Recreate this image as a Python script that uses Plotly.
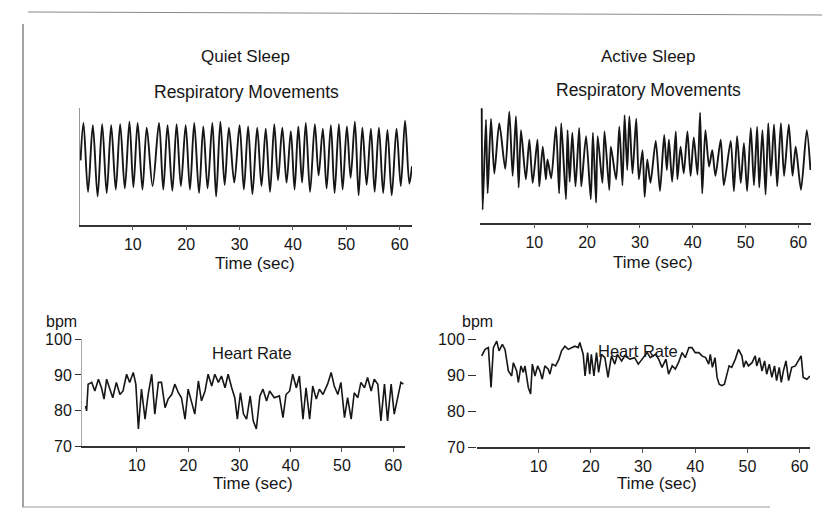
import plotly.graph_objects as go

# ---------------- data ----------------
# Quiet sleep – respiratory movements (arbitrary units, 0-100)
QS_resp_t = [0.2, 0.75, 1.6, 2.5, 3.4, 4.25, 5.1, 5.94, 6.8, 7.62, 8.5, 9.36, 10.1, 10.9, 11.8, 12.6,
             13.7, 14.9, 15.7, 16.5, 17.4, 18.2, 19.0, 19.9, 20.7, 21.5, 22.4, 23.2, 24.0, 24.9, 25.6,
             26.4, 27.2, 28.0, 29.0, 30.0, 30.8, 31.6, 32.4, 33.3, 34.1, 34.9, 35.7, 36.5, 37.2, 38.0,
             38.8, 39.6, 40.3, 41.0, 41.7, 42.4, 43.2, 44.1, 44.8, 45.6, 46.3, 47.1, 47.8, 48.6, 49.3,
             50.1, 50.8, 51.6, 52.3, 53.0, 53.8, 54.6, 55.3, 56.1, 56.9, 57.7, 58.5, 59.4, 60.2, 61.0,
             61.8, 62.3]
QS_resp_v = [55, 87, 28, 85, 24, 86, 27, 85, 30, 86, 31, 88, 32, 87, 30, 83,
             33, 87, 30, 85, 29, 86, 33, 85, 30, 87, 27, 84, 31, 87, 24,
             88, 34, 83, 36, 85, 30, 84, 26, 83, 33, 82, 28, 86, 38, 83,
             36, 80, 30, 84, 36, 87, 28, 86, 42, 82, 31, 85, 27, 86, 30,
             84, 40, 88, 25, 83, 34, 82, 28, 83, 27, 81, 25, 82, 33, 89,
             35, 50]

# Active sleep – respiratory movements
AS_resp_t = [0.05, 0.22, 0.85, 1.17, 1.8, 2.43, 3.37, 4.5, 5.27, 5.9,
             6.53, 7.04, 7.48, 8.4, 9.06, 9.7, 10.6, 10.95, 11.6, 12.2,
             12.5, 13.2, 14.1, 14.7, 15.1, 16.0, 16.3, 16.7, 17.2, 17.8,
             18.5, 18.9, 19.8, 20.7, 21.1, 21.7, 22.0, 22.9, 23.3, 24.2,
             24.5, 25.5, 26.1, 26.7, 27.1, 27.6, 28.0, 28.6, 29.3, 29.8,
             30.5, 30.9, 31.4, 32.0, 33.0, 33.8, 34.6, 35.1, 35.5, 36.1,
             36.8, 37.1, 37.7, 38.3, 39.0, 39.6, 40.2, 40.9, 41.4, 41.8,
             42.4, 43.1, 43.7, 44.3, 45.3, 45.9, 47.2, 47.8, 48.4, 49.1,
             49.7, 50.3, 51.0, 51.6, 52.2, 52.6, 53.2, 53.8, 54.3, 54.8,
             55.4, 56.0, 56.7, 57.3, 58.2, 58.9, 59.5, 60.5, 61.6, 62.3]
AS_resp_v = [98, 11, 88, 25, 89, 42, 85, 46, 95, 40,
             91, 30, 79, 37, 71, 34, 71, 31, 65, 37,
             54, 38, 82, 25, 85, 20, 79, 35, 77, 31,
             81, 31, 74, 20, 77, 17, 74, 34, 78, 28,
             65, 37, 82, 32, 92, 45, 91, 42, 89, 37,
             62, 22, 54, 34, 70, 27, 75, 45, 71, 35,
             78, 37, 65, 42, 78, 40, 73, 41, 94, 25,
             79, 48, 62, 40, 71, 32, 70, 27, 74, 34,
             68, 27, 81, 32, 82, 30, 79, 24, 85, 40,
             84, 31, 85, 40, 84, 40, 65, 28, 79, 45]

# Quiet sleep – heart rate (bpm)
QS_hr_t = [0.0, 0.2, 0.5, 1.2, 1.8, 2.5, 3.1, 3.6, 4.1, 4.8,
           5.3, 6.0, 6.7, 7.3, 8.0, 8.6, 9.3, 9.8, 10.3, 10.9,
           11.6, 12.2, 12.9, 13.5, 14.2, 14.8, 15.5, 16.1, 16.8, 17.4,
           18.1, 18.7, 19.4, 20.0, 20.7, 21.3, 22.0, 22.6, 23.3, 23.9,
           24.6, 25.2, 25.9, 26.5, 27.2, 27.8, 28.5, 29.1, 29.6, 30.2,
           30.8, 31.4, 32.1, 32.7, 33.3, 34.0, 34.6, 35.3, 35.9, 36.8,
           37.8, 38.5, 39.1, 39.8, 40.4, 41.1, 41.7, 42.4, 43.0, 43.7,
           44.3, 45.0, 45.6, 46.3, 47.2, 47.9, 48.5, 49.2, 49.8, 50.5,
           51.1, 51.8, 52.4, 53.1, 53.7, 54.4, 55.0, 55.7, 56.3, 57.0,
           57.6, 58.3, 58.9, 59.6, 60.2, 60.9, 61.5, 62.0]
QS_hr_v = [81.3, 79.9, 87.4, 87.9, 85.5, 88.8, 86.4, 83.2, 88.8, 85.5,
           83.6, 87.9, 84.5, 85.5, 90.2, 87.9, 90.7, 87.4, 74.8, 86.0,
           77.6, 84.5, 90.2, 79.0, 87.9, 87.9, 80.8, 83.2, 84.5, 87.4,
           85.0, 83.6, 77.6, 86.0, 81.8, 79.0, 88.3, 82.7, 85.5, 90.2,
           86.9, 90.2, 87.9, 89.7, 86.4, 90.2, 86.4, 83.6, 77.6, 85.0,
           79.0, 77.6, 84.1, 77.1, 74.8, 84.1, 86.0, 82.7, 85.5, 83.6,
           84.1, 78.0, 84.5, 85.5, 90.2, 86.4, 89.7, 77.6, 86.4, 77.6,
           86.9, 83.2, 86.0, 84.5, 87.4, 90.7, 86.9, 84.5, 87.9, 78.0,
           83.6, 77.6, 85.0, 83.6, 87.9, 86.4, 89.3, 85.5, 88.8, 87.4,
           77.1, 87.4, 77.1, 87.4, 79.0, 84.1, 87.9, 87.4]

# Active sleep – heart rate (bpm)
AS_hr_t = [-0.9, -0.25, 0.38, 0.89, 1.34, 1.98, 2.42, 3.06, 3.57, 4.21,
           4.84, 5.16, 5.8, 6.12, 6.63, 7.07, 7.39, 8.03, 8.47, 8.8,
           9.3, 9.82, 10.26, 10.7, 11.2, 11.85, 12.17, 12.62, 13.26, 13.9,
           14.4, 15.04, 15.68, 16.3, 16.95, 17.6, 17.9, 18.55, 18.9, 19.4,
           19.8, 20.1, 20.6, 21.1, 21.5, 22.05, 22.7, 23.3, 23.96, 24.6,
           25.1, 25.9, 26.5, 27.5, 28.4, 29.1,
           29.83, 30.8, 31.4, 32.4, 33.0, 33.65, 34.4, 34.9, 35.6, 36.2,
           36.8, 37.5, 38.1, 38.8, 39.4, 40.0, 40.7, 41.3, 42.0, 42.6,
           42.9, 43.3, 43.8, 44.2, 44.6, 45.1, 45.6, 46.1, 46.5, 47.0,
           47.7, 48.3, 48.95, 49.3, 49.7, 50.2, 50.9, 51.5, 51.8, 52.3,
           52.8, 53.3, 53.7, 54.2, 54.7, 55.2, 55.6, 56.1, 56.5, 56.9,
           57.4, 57.9, 58.5, 59.2, 59.8, 60.3, 60.7, 61.4, 62.0]
AS_hr_v = [95.4, 97.2, 97.7, 86.6, 97.7, 99.5, 96.8, 98.6, 97.2, 91.2,
           89.8, 93.5, 91.2, 88.0, 92.6, 90.8, 92.6, 86.6, 84.8, 93.1,
           89.8, 92.6, 91.2, 88.9, 92.6, 91.7, 90.3, 93.1, 92.6, 94.5,
           96.8, 98.1, 97.2, 97.7, 98.1, 97.7, 99.1, 95.8, 89.8, 96.3,
           90.3, 95.8, 89.8, 96.3, 90.8, 95.8, 94.9, 89.4, 95.4, 93.1,
           95.8, 94.0, 95.4, 94.5, 94.9, 93.1,
           94.5, 96.3, 94.9, 95.8, 94.5, 92.2, 94.5, 90.3, 92.6, 91.7,
           93.5, 96.3, 94.9, 97.7, 97.7, 96.3, 96.3, 95.4, 94.9, 93.1,
           95.8, 92.2, 94.9, 89.4, 87.5, 87.1, 87.5, 90.3, 92.6, 92.2,
           94.5, 97.2, 95.4, 92.2, 94.0, 92.6, 93.5, 95.4, 92.6, 94.9,
           91.2, 94.0, 90.3, 93.1, 89.4, 92.6, 88.5, 92.2, 88.0, 91.2,
           94.0, 88.5, 92.2, 92.6, 94.0, 95.4, 89.4, 88.9, 89.8]

time_ticks = [10, 20, 30, 40, 50, 60]
bpm_ticks = [70, 80, 90, 100]

# ---------------- layout helpers ----------------
W, H = 822, 516
FONT = "Liberation Sans, Arial, Helvetica, sans-serif"
INK = "#161616"

# the photographed page shows the figure slightly shifted/compressed vertically;
# targets below are in reference-picture pixels and are mapped back here
V_OFF, V_SCALE = 8.0, 0.969


def ypix(t):
    return min(max((t - V_OFF) / V_SCALE, 0), H)


def dx(l, r):
    return [l / W, r / W]


def dy(t, b):
    return [1 - ypix(b) / H, 1 - ypix(t) / H]


def px(x):
    return x / W


def py(y):
    return 1 - ypix(y) / H


fig = go.Figure()
fig.add_trace(go.Scatter(x=QS_resp_t, y=QS_resp_v, mode="lines",
                         line=dict(color=INK, width=1.9, shape="spline", smoothing=0.9),
                         xaxis="x", yaxis="y", hoverinfo="skip"))
fig.add_trace(go.Scatter(x=AS_resp_t, y=AS_resp_v, mode="lines",
                         line=dict(color=INK, width=1.9, shape="spline", smoothing=0.7),
                         xaxis="x2", yaxis="y2", hoverinfo="skip"))
fig.add_trace(go.Scatter(x=QS_hr_t, y=QS_hr_v, mode="lines", line=dict(color=INK, width=1.6),
                         xaxis="x3", yaxis="y3", hoverinfo="skip"))
fig.add_trace(go.Scatter(x=AS_hr_t, y=AS_hr_v, mode="lines", line=dict(color=INK, width=1.6),
                         xaxis="x4", yaxis="y4", hoverinfo="skip"))

tickfont = dict(family=FONT, size=16, color=INK)
xcommon = dict(showgrid=False, zeroline=False, showline=True, linecolor="#333", linewidth=1.8,
               ticks="outside", ticklen=4, tickcolor="#555", tickvals=time_ticks,
               tickfont=tickfont, fixedrange=True)

layout = dict(
    width=W, height=H, autosize=False,
    margin=dict(l=0, r=0, t=0, b=0),
    paper_bgcolor="white", plot_bgcolor="rgba(0,0,0,0)",
    showlegend=False,
    xaxis=dict(xcommon, domain=dx(80, 412), range=[0.1, 62.3], anchor="y"),
    yaxis=dict(domain=dy(108, 225), range=[0, 100], anchor="x", showgrid=False, zeroline=False,
               showline=True, linecolor="#999", linewidth=1, showticklabels=False, ticks="", fixedrange=True),
    xaxis2=dict(xcommon, domain=dx(480, 811), range=[-0.28, 62.4], anchor="y2"),
    yaxis2=dict(domain=dy(106, 223), range=[0, 100], anchor="x2", showgrid=False, zeroline=False,
                showline=False, showticklabels=False, ticks="", fixedrange=True),
    xaxis3=dict(xcommon, domain=dx(82, 405), range=[-0.7, 62.3], anchor="y3"),
    yaxis3=dict(domain=dy(340, 447), range=[70, 100], anchor="x3", showgrid=False, zeroline=False,
                showline=True, linecolor="#aaa", linewidth=1, ticks="outside", ticklen=6,
                tickcolor="#333", tickvals=bpm_ticks, tickfont=tickfont, fixedrange=True),
    xaxis4=dict(xcommon, domain=dx(477, 810), range=[-1.8, 62.0], anchor="y4"),
    yaxis4=dict(domain=dy(340, 448), range=[70, 100], anchor="x4", showgrid=False, zeroline=False,
                showline=False, ticks="outside", ticklen=8, tickcolor="#333",
                tickvals=bpm_ticks, tickfont=tickfont, fixedrange=True),
)
fig.update_layout(**layout)

labels = [
    ("Quiet Sleep", 245, 57, 17),
    ("Respiratory Movements", 246, 92, 17.5),
    ("Active Sleep", 648, 57, 17),
    ("Respiratory Movements", 648, 90, 17.5),
    ("Time (sec)", 255, 264, 17),
    ("Time (sec)", 653, 263, 17),
    ("bpm", 61, 322, 16),
    ("Heart Rate", 252, 354, 16.5),
    ("bpm", 477, 322, 16),
    ("Heart Rate", 638, 352, 16.5),
    ("Time (sec)", 253, 484, 17),
    ("Time (sec)", 657, 484, 17),
]
for text, x, y, s in labels:
    fig.add_annotation(text=text, x=px(x), y=py(y), xref="paper", yref="paper",
                       xanchor="center", yanchor="middle", showarrow=False,
                       font=dict(family=FONT, size=s, color=INK))

# scanned page frame lines
frame = [
    (28, 12, 822, 15, "#888", 1),
    (23, 24, 23, 516, "#666", 1.2),
    (22, 510, 770, 510, "#999", 1),
]
for x0, y0, x1, y1, c, w in frame:
    fig.add_shape(type="line", xref="paper", yref="paper", x0=px(x0), y0=py(y0), x1=px(x1), y1=py(y1),
                  line=dict(color=c, width=w))

fig.write_html("out.html", config={"displayModeBar": False})
